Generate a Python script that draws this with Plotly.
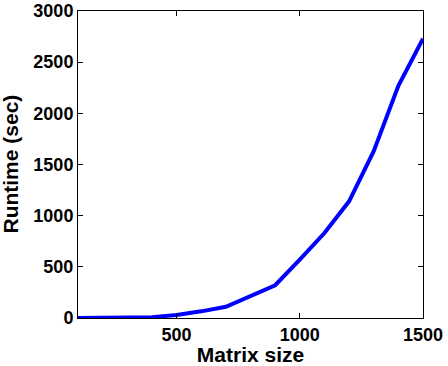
import plotly.graph_objs as go

# matrix size vs runtime
matrix_size = [100, 200, 300, 400, 500, 600, 700, 800, 900, 1000, 1100, 1200, 1300, 1400, 1500]
runtime_sec = [0.1, 0.5, 2, 8, 30, 65, 110, 210, 320, 570, 830, 1140, 1630, 2270, 2730]

x_ticks = [500, 1000, 1500]
y_ticks = [0, 500, 1000, 1500, 2000, 2500, 3000]

fig = go.Figure(go.Scatter(x=matrix_size, y=runtime_sec, mode='lines',
                           line=dict(color='rgb(0,0,255)', width=4)))

axis_font = dict(family='Liberation Sans, Arial', size=18, color='black', weight='bold')
title_font = dict(family='Liberation Sans, Arial', size=21, color='black', weight='bold')

fig.update_layout(
    width=448, height=366,
    margin=dict(l=78, r=25, t=11, b=48, autoexpand=False),
    paper_bgcolor='white', plot_bgcolor='white',
    showlegend=False,
    xaxis=dict(range=[100, 1500], tickvals=x_ticks, ticks='inside', ticklen=5,
               tickcolor='black', showline=True, linecolor='black', linewidth=1,
               mirror='ticks', showgrid=False, zeroline=False, tickfont=axis_font,
               ticklabeloverflow='allow', automargin=False,
               title=dict(text='Matrix size', font=title_font, standoff=0)),
    yaxis=dict(range=[0, 3000], tickvals=y_ticks, ticks='inside', ticklen=5,
               tickcolor='black', showline=True, linecolor='black', linewidth=1,
               mirror='ticks', showgrid=False, zeroline=False, tickfont=axis_font,
               ticklabeloverflow='allow', automargin=False),
    # y title as annotation so it can sit close to the left edge like the original
    annotations=[dict(text='Runtime (sec)', font=title_font, textangle=-90,
                      xref='paper', yref='paper', x=-0.197, y=0.5,
                      xanchor='center', yanchor='middle', showarrow=False)],
)

fig.write_html("out.html", config={'displayModeBar': False},
               post_script="document.body.style.margin='0';")
